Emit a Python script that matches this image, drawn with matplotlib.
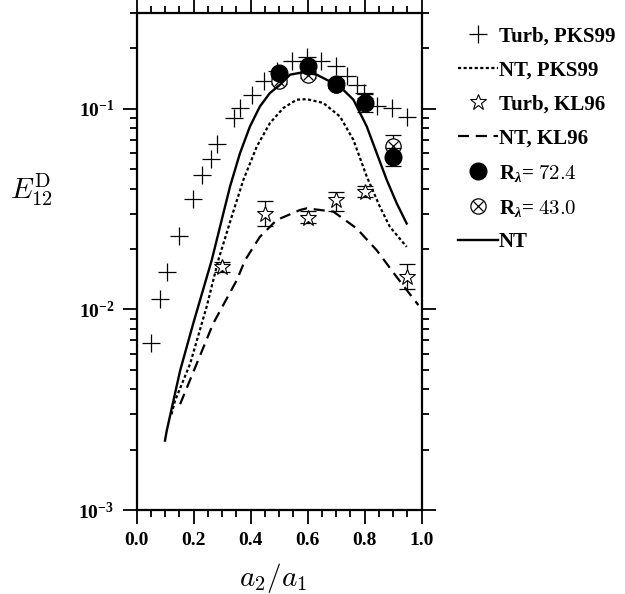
import matplotlib
matplotlib.use('Agg')
import matplotlib.pyplot as plt
from matplotlib.ticker import MultipleLocator, LogLocator, FuncFormatter, NullFormatter
from matplotlib.legend_handler import HandlerTuple
import numpy as np

# ---------------- data ----------------
turb_pks_x = [0.052, 0.083, 0.107, 0.150, 0.198, 0.229, 0.262, 0.282, 0.341, 0.364,
              0.405, 0.446, 0.493, 0.546, 0.597, 0.646, 0.699, 0.740, 0.773, 0.798,
              0.845, 0.898, 0.949]
turb_pks_y = [0.0068, 0.0113, 0.0154, 0.0232, 0.0357, 0.0468, 0.056, 0.0666, 0.090, 0.1007,
              0.117, 0.138, 0.155, 0.173, 0.182, 0.174, 0.163, 0.146, 0.132, 0.120,
              0.103, 0.1007, 0.0915]

nt_pks_x = [0.123, 0.135, 0.188, 0.246, 0.287, 0.334, 0.375, 0.422, 0.468, 0.515, 0.562,
            0.597, 0.655, 0.714, 0.761, 0.808, 0.854, 0.889, 0.948]
nt_pks_y = [0.0030, 0.0035, 0.00535, 0.0103, 0.0176, 0.029, 0.0442, 0.0648, 0.0848, 0.1008, 0.111,
            0.1117, 0.107, 0.0915, 0.070, 0.0459, 0.0325, 0.0258, 0.0205]

turb_kl_x = [0.30, 0.45, 0.60, 0.70, 0.80, 0.95]
turb_kl_y = [0.0163, 0.030, 0.0284, 0.035, 0.0386, 0.0145]
turb_kl_lo = [0.0154, 0.026, 0.027, 0.031, 0.0365, 0.0126]
turb_kl_hi = [0.0173, 0.0347, 0.031, 0.0383, 0.041, 0.0168]

nt_kl_x = [0.153, 0.211, 0.269, 0.352, 0.381, 0.433, 0.492, 0.574, 0.597, 0.691, 0.773,
           0.843, 0.913, 0.989]
nt_kl_y = [0.00337, 0.00535, 0.0085, 0.014, 0.0176, 0.023, 0.0279, 0.0313, 0.0319, 0.0307, 0.0253,
           0.0197, 0.0145, 0.0105]

r72_x = [0.5, 0.6, 0.7, 0.8, 0.9]
r72_y = [0.150, 0.164, 0.133, 0.107, 0.0578]
r72_err = [0.006, 0.010, 0.006, 0.011, 0.006]

r43_x = [0.5, 0.6, 0.7, 0.8, 0.9]
r43_y = [0.138, 0.148, 0.132, 0.108, 0.065]
r43_err = [0.005, 0.005, 0.005, 0.005, 0.009]

nt_x = [0.100, 0.106, 0.153, 0.199, 0.264, 0.293, 0.328, 0.363, 0.398, 0.433, 0.468, 0.504,
        0.539, 0.585, 0.632, 0.714, 0.761, 0.808, 0.843, 0.878, 0.913, 0.948]
nt_y = [0.00222, 0.00248, 0.00495, 0.0085, 0.0176, 0.0258, 0.0409, 0.060, 0.0816, 0.1027, 0.1198, 0.132,
        0.148, 0.152, 0.148, 0.129, 0.111, 0.0816, 0.060, 0.0442, 0.0338, 0.0268]

labels = ['Turb, PKS99', 'NT, PKS99', 'Turb, KL96', 'NT, KL96',
          r'$\mathbf{R}_{\lambda}$= $\mathsf{72.4}$', r'$\mathbf{R}_{\lambda}$= $\mathsf{43.0}$', 'NT']

# ---------------- style ----------------
plt.rcParams['font.family'] = ['Liberation Serif', 'DejaVu Serif']
plt.rcParams['font.weight'] = 'bold'
plt.rcParams['mathtext.fontset'] = 'custom'
plt.rcParams['mathtext.rm'] = 'Liberation Serif:bold'
plt.rcParams['mathtext.bf'] = 'Liberation Serif:bold'
plt.rcParams['mathtext.it'] = 'Liberation Serif:italic'
plt.rcParams['mathtext.sf'] = 'cmr10'

fig = plt.figure(figsize=(6.25, 5.94), dpi=100)
ax = fig.add_axes([0.2184, 0.1414, 0.4560, 0.8366])

k = 'black'
h_tp, = ax.plot(turb_pks_x, turb_pks_y, ls='none', marker='+', ms=13, mew=0.9, color=k)
h_np, = ax.plot(nt_pks_x, nt_pks_y, ls=(0, (1.4, 1.1)), lw=1.6, color=k)
lo = np.array(turb_kl_y) - np.array(turb_kl_lo)
hi = np.array(turb_kl_hi) - np.array(turb_kl_y)
ax.errorbar(turb_kl_x, turb_kl_y, yerr=[lo, hi], fmt='none', ecolor=k, elinewidth=0.9, capsize=6, capthick=0.9)
h_tk, = ax.plot(turb_kl_x, turb_kl_y, ls='none', marker='*', ms=12, mew=0.8, mfc='white', mec=k)
h_nk, = ax.plot(nt_kl_x, nt_kl_y, ls=(0, (5, 3)), lw=1.6, color=k)

ax.errorbar(r43_x, r43_y, yerr=r43_err, fmt='none', ecolor=k, elinewidth=0.9, capsize=6, capthick=0.9)
h_o, = ax.plot(r43_x, r43_y, ls='none', marker='o', ms=11, mew=0.9, mfc='white', mec=k)
h_x, = ax.plot(r43_x, r43_y, ls='none', marker='x', ms=7.6, mew=0.9, color=k)
ax.errorbar(r72_x, r72_y, yerr=r72_err, fmt='none', ecolor=k, elinewidth=0.9, capsize=6, capthick=0.9)
h_r72, = ax.plot(r72_x, r72_y, ls='none', marker='o', ms=12, color=k)
h_nt, = ax.plot(nt_x, nt_y, ls='-', lw=1.7, color=k, solid_joinstyle='round')

ax.set_xlim(0.0, 1.0)
ax.set_yscale('log')
ax.set_ylim(1e-3, 0.30)

ax.xaxis.set_major_locator(MultipleLocator(0.2))
ax.xaxis.set_minor_locator(MultipleLocator(0.05))
ax.xaxis.set_major_formatter(FuncFormatter(lambda v, p: '%.1f' % v))
ax.yaxis.set_major_locator(LogLocator(base=10, numticks=10))
ax.yaxis.set_minor_locator(LogLocator(base=10, subs=np.arange(2, 10), numticks=20))
ax.yaxis.set_minor_formatter(NullFormatter())
ax.yaxis.set_major_formatter(FuncFormatter(lambda v, p: r'$\mathbf{10^{%d}}$' % int(round(np.log10(v)))))

ax.tick_params(which='both', direction='out', top=True, right=True, width=1.3, labelsize=14)
ax.tick_params(which='major', length=10)
ax.tick_params(which='minor', length=5)
ax.tick_params(axis='x', which='major', pad=6)
ax.tick_params(axis='y', which='major', pad=6)
for s in ax.spines.values():
    s.set_linewidth(1.6)
for t in ax.get_xticklabels() + ax.get_yticklabels():
    t.set_fontweight('bold')

fig.text(0.016, 0.68, r'$E_{12}^{\mathrm{D}}$', math_fontfamily='cm', fontsize=21,
         ha='left', va='center', fontweight='normal')
fig.text(0.437, 0.027, r'$a_2/a_1$', math_fontfamily='cm', fontsize=21,
         ha='center', va='center', fontweight='normal')

handles = [h_tp, h_np, h_tk, h_nk, h_r72, (h_o, h_x), h_nt]
leg = fig.legend(handles, labels, loc='upper left', bbox_to_anchor=(0.733, 0.955),
                 frameon=False, borderpad=0, borderaxespad=0, handlelength=1.9, handletextpad=0.05,
                 labelspacing=0.67, prop={'family': 'Liberation Serif', 'weight': 'bold', 'size': 15},
                 handler_map={tuple: HandlerTuple(ndivide=1, pad=0)})

fig.savefig('out.png', dpi=100)
